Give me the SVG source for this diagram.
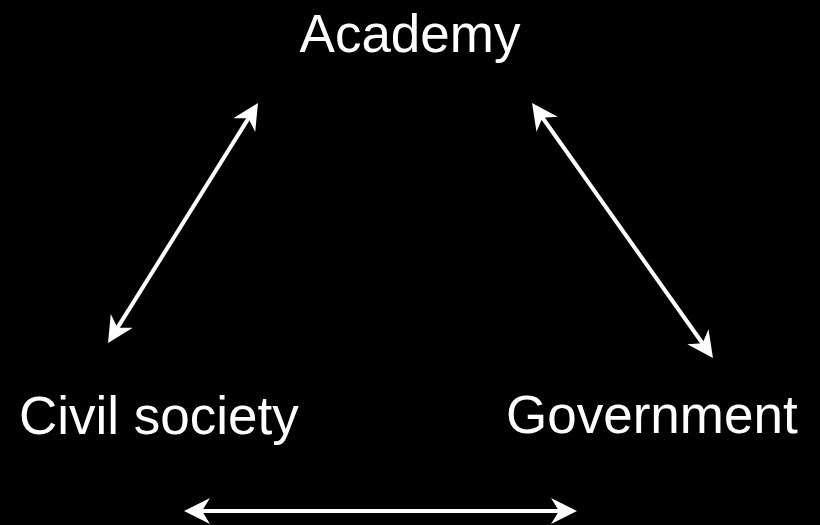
<svg xmlns="http://www.w3.org/2000/svg" width="820" height="525" viewBox="0 0 820 525">
<defs>
<style>
.lbl{font-family:"Liberation Sans",Arial,sans-serif;font-size:53px;fill:#ffffff}
.con{stroke:#ffffff;stroke-width:4;fill:none}
</style>
<marker id="ah" markerUnits="userSpaceOnUse" viewBox="0 -14 27 28" refX="10" refY="0" markerWidth="27" markerHeight="28" orient="auto-start-reverse">
<path d="M0,-13 L26,0 L0,13 L8,0 Z" fill="#ffffff"/>
</marker>
</defs>
<rect width="820" height="525" fill="#000000"/>
<g id="connectors">
<line class="con" x1="249.5" y1="116.6" x2="116.5" y2="329.4" marker-start="url(#ah)" marker-end="url(#ah)"/>
<line class="con" x1="541.3" y1="116" x2="703.7" y2="345" marker-start="url(#ah)" marker-end="url(#ah)"/>
<line class="con" x1="200" y1="511" x2="561" y2="511" marker-start="url(#ah)" marker-end="url(#ah)"/>
</g>
<g id="academy"><text class="lbl" x="410" y="52" text-anchor="middle">Academy</text></g>
<g id="civil-society"><text class="lbl" x="19" y="434">Civil society</text></g>
<g id="government"><text class="lbl" x="506" y="433">Government</text></g>
</svg>
